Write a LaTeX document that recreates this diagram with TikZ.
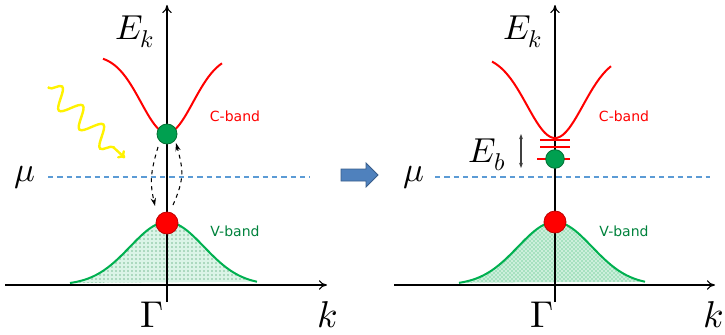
\documentclass[tikz,border=0pt]{standalone}
\usepackage{fontspec}
\usepackage{unicode-math}
\setmathfont{Latin Modern Math}
\setsansfont{DejaVu Sans}
\usetikzlibrary{arrows.meta,decorations.pathmorphing,patterns,calc}
\definecolor{cred}{RGB}{255,0,0}
\definecolor{dred}{RGB}{190,0,0}
\definecolor{cgreen}{RGB}{0,176,80}
\definecolor{tgreen}{RGB}{0,130,60}
\definecolor{dotgreen}{RGB}{0,160,80}
\definecolor{dotedge}{RGB}{0,110,50}
\definecolor{mublue}{RGB}{91,155,213}
\definecolor{arrfill}{RGB}{79,129,189}
\definecolor{arredge}{RGB}{56,93,138}
\definecolor{patleft}{RGB}{20,130,60}
\definecolor{patright}{RGB}{40,180,100}
\begin{document}
\begin{tikzpicture}[x=0.75pt,y=-0.75pt,
  axis/.style={line width=0.8pt,-{To[length=6pt,width=7pt]}},
  cband/.style={cred,line width=1.5pt},
  vband/.style={cgreen,line width=1.5pt},
  bandlbl/.style={font=\sffamily\fontsize{10.5}{12}\selectfont,inner sep=0pt},
  mathbig/.style={font=\fontsize{26}{30}\selectfont,inner sep=0pt},
  mathhuge/.style={font=\fontsize{28}{32}\selectfont,inner sep=0pt},
  reddot/.style={circle,fill=cred,draw=dred,line width=0.6pt,minimum size=16.5pt,inner sep=0pt},
  greendot/.style={circle,fill=dotgreen,draw=dotedge,line width=0.6pt,minimum size=15pt,inner sep=0pt},
  greendotsm/.style={circle,fill=dotgreen,draw=dotedge,line width=0.6pt,minimum size=14pt,inner sep=0pt},
  mudash/.style={mublue,line width=0.8pt,dash pattern=on 4pt off 3pt},
  level/.style={cred,line width=0.8pt}
]
\useasboundingbox (0,0) rectangle (725,335);

% ===== Left panel =====
\fill[cgreen!14]
  plot[domain=-97:90,samples=80] ({167+\x},{285-63*exp(-(\x)*(\x)/(2*37*37))}) -- cycle;
\fill[pattern=dots,pattern color=patleft]
  plot[domain=-97:90,samples=80] ({167+\x},{285-63*exp(-(\x)*(\x)/(2*37*37))}) -- cycle;
\draw[vband] plot[domain=-97:90,samples=80,smooth] ({167+\x},{285-63*exp(-(\x)*(\x)/(2*37*37))});
\draw[axis] (5,285) -- (327,285);
\draw[axis] (167,302) -- (167,5);
\draw[cband] plot[domain=-64:55,samples=80,smooth] ({167+\x},{55+78*exp(-(\x)*(\x)/(2*26*26))});
\draw[mudash] (48,177) -- (310,177);
\node[mathbig] (ekl) at (135,32) {$E_k$};
\node[mathbig] (mul) at (25,178) {$\mu$};
\node[mathhuge] (gl) at (152,315) {$\Gamma$};
\node[mathhuge] (kl) at (328,315) {$k$};
\node[bandlbl,text=cred] (cbl) at (235,116) {C-band};
\node[bandlbl,text=tgreen] (vbl) at (235,231) {V-band};
\node[greendot] (g1) at (167,134) {};
\node[reddot] (r1) at (167,223) {};
\draw[dashed,line width=0.8pt,-{Stealth[length=6pt,width=4pt]}]
  ($(g1)+(-9,13)$) .. controls ($(g1)+(-17,40)$) and ($(r1)+(-17,-40)$) .. ($(r1)+(-12,-17)$);
\draw[dashed,line width=0.8pt,-{Stealth[length=6pt,width=4pt]}]
  ($(r1)+(6,-18)$) .. controls ($(r1)+(18,-45)$) and ($(g1)+(16,35)$) .. ($(g1)+(9,9)$);
\coordinate (ys) at (48,87);
\coordinate (ye) at (125,158);
\draw[yellow,line width=1.8pt,decorate,
  decoration={snake,amplitude=7.5pt,segment length=21pt,pre length=1pt,post length=10pt},
  -{To[length=5pt,width=8pt]}] (ys) -- (ye);

% ===== Block arrow =====
\draw[arredge,fill=arrfill,line width=0.6pt]
  (341,169) -- (366,169) -- (366,163) -- (378,175) -- (366,187) -- (366,181) -- (341,181) -- cycle;

% ===== Right panel =====
\fill[cgreen!20]
  plot[domain=-96:90,samples=80] ({555+\x},{285-63*exp(-(\x)*(\x)/(2*37*37))}) -- cycle;
\fill[pattern=crosshatch dots,pattern color=patright]
  plot[domain=-96:90,samples=80] ({555+\x},{285-63*exp(-(\x)*(\x)/(2*37*37))}) -- cycle;
\draw[vband] plot[domain=-96:90,samples=80,smooth] ({555+\x},{285-63*exp(-(\x)*(\x)/(2*37*37))});
\draw[axis] (394,285) -- (715,285);
\draw[axis] (555,302) -- (555,5);
\draw[cband] plot[domain=-63:56,samples=80,smooth] ({555+\x},{55+83*exp(-(\x)*(\x)/(2*28*28))});
\draw[mudash] (435,177) -- (710,177);
\draw[level] (540,140) -- (570,140);
\draw[level] (540,147) -- (570,147);
\draw[level] (537,159) -- (570,159);
\node[mathbig] (ekr) at (523,32) {$E_k$};
\node[mathbig] (mur) at (414,178) {$\mu$};
\node[mathbig] (ebr) at (487,155) {$E_b$};
\node[mathhuge] (gr) at (542,315) {$\Gamma$};
\node[mathhuge] (kr) at (713,315) {$k$};
\node[bandlbl,text=cred] (cbr) at (624,116) {C-band};
\node[bandlbl,text=tgreen] (vbr) at (624,231) {V-band};
\node[greendotsm] (g2) at (555,159) {};
\node[reddot] (r2) at (555,222) {};
\coordinate (ebt) at (521,134);
\coordinate (ebb) at (521,168);
\draw[black!75,line width=0.8pt,{Stealth[length=4pt,width=3pt]}-{Stealth[length=4pt,width=3pt]}] (ebt) -- (ebb);
\end{tikzpicture}
\end{document}
